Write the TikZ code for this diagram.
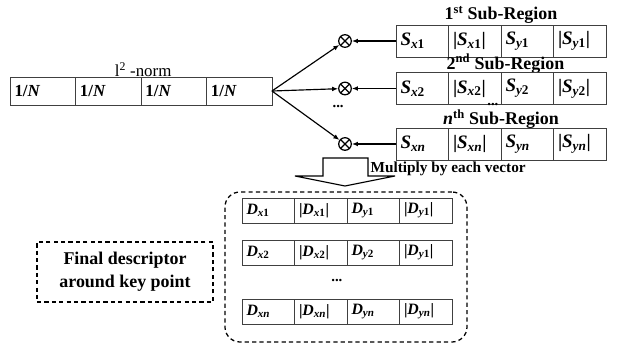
\documentclass[tikz,border=0pt]{standalone}
\usepackage{fontspec}
\setmainfont{Liberation Serif}
\usetikzlibrary{arrows.meta,positioning}
\newcommand{\vc}[3]{\textit{#1}\textsubscript{\textit{#2}#3}}
\newcommand{\absvc}[3]{|\vc{#1}{#2}{#3}|}
\tikzset{
  cell/.style={draw=black!75, line width=0.6pt, inner xsep=0.15cm,
               inner ysep=0pt, outer sep=0pt, align=left},
  normcell/.style={cell, text width=1.883cm, minimum height=0.933cm,
                   font=\fontsize{16}{18}\selectfont\bfseries},
  scell/.style={cell, text width=1.45cm, minimum height=1.067cm,
                font=\fontsize{18}{20}\selectfont\bfseries},
  dcell/.style={cell, text width=1.45cm, minimum height=0.833cm,
                font=\fontsize{15}{17}\selectfont\bfseries},
  title/.style={font=\fontsize{17}{19}\selectfont\bfseries, inner sep=0pt},
  dots/.style={font=\fontsize{14}{16}\selectfont\bfseries, inner sep=0pt},
  mult/.style={circle, draw=black, line width=1.2pt, minimum size=0.42cm,
               inner sep=0pt,
               path picture={\draw[line width=1.2pt]
                 (path picture bounding box.north west) -- (path picture bounding box.south east)
                 (path picture bounding box.north east) -- (path picture bounding box.south west);}},
  flow/.style={-{Latex[length=2mm,width=1.6mm]}, line width=1.1pt},
  dashbox/.style={draw=black, line width=1.2pt, dash pattern=on 4pt off 3pt},
  blockarrow/.style={draw=black, line width=1.1pt, fill=white},
}

\begin{document}
\begin{tikzpicture}[x=1cm,y=1cm]
  \path[use as bounding box] (0,0) rectangle (20.6,11.567);

  % l2-norm row
  \node[normcell] (n1) at (1.425,8.533) {1/\textit{N}};
  \node[normcell, right=0pt of n1] (n2) {1/\textit{N}};
  \node[normcell, right=0pt of n2] (n3) {1/\textit{N}};
  \node[normcell, right=0pt of n3] (n4) {1/\textit{N}};
  \node[font=\fontsize{16}{18}\selectfont, inner sep=0pt] (normlab) at (4.77,9.25)
    {l\textsuperscript{2} -norm};

  % sub-region vectors
  \node[title] (t1) at (16.7,11.07) {1\textsuperscript{st} Sub-Region};
  \node[scell] (s11) at (14.075,10.2) {\vc{S}{x}{1}};
  \node[scell, right=0pt of s11] (s12) {\absvc{S}{x}{1}};
  \node[scell, right=0pt of s12] (s13) {\vc{S}{y}{1}};
  \node[scell, right=0pt of s13] (s14) {\absvc{S}{y}{1}};

  \node[title] (t2) at (16.85,9.45) {2\textsuperscript{nd} Sub-Region};
  \node[scell] (s21) at (14.075,8.617) {\vc{S}{x}{2}};
  \node[scell, right=0pt of s21] (s22) {\absvc{S}{x}{2}};
  \node[scell, right=0pt of s22] (s23) {\vc{S}{y}{2}};
  \node[scell, right=0pt of s23] (s24) {\absvc{S}{y}{2}};
  \node[dots] (sdots) at (16.43,8.07) {...};

  \node[title] (t3) at (16.7,7.6) {\textit{n}\textsuperscript{th} Sub-Region};
  \node[scell] (s31) at (14.075,6.767) {\vc{S}{xn}{}};
  \node[scell, right=0pt of s31] (s32) {\absvc{S}{xn}{}};
  \node[scell, right=0pt of s32] (s33) {\vc{S}{yn}{}};
  \node[scell, right=0pt of s33] (s34) {\absvc{S}{yn}{}};

  % multipliers
  \node[mult] (m1) at (11.5,10.2) {};
  \node[mult] (m2) at (11.5,8.617) {};
  \node[mult] (m3) at (11.5,6.767) {};
  \node[dots] (mdots) at (11.27,8.03) {...};
  \draw[flow] (n4.east) -- (m1);
  \draw[flow] (n4.east) -- (m2);
  \draw[flow] (n4.east) -- (m3);
  \draw[flow] (s11.west) -- (m1);
  \draw[flow] (s21.west) -- (m2);
  \draw[flow] (s31.west) -- (m3);

  % block arrow
  \draw[blockarrow] (10.767,6.3) -- (10.767,5.7) -- (9.833,5.7) -- (11.5,5.367)
    -- (13.167,5.7) -- (12.267,5.7) -- (12.267,6.3) -- cycle;
  \node[title, anchor=west, font=\fontsize{14.5}{16}\selectfont\bfseries] (multlab)
    at (12.35,5.93) {Multiply by each vector};

  % final descriptor
  \node[dashbox, rounded corners=0.5cm, minimum width=8.067cm, minimum height=5.0cm]
    (group) at (11.533,2.667) {};
  \node[dcell] (d11) at (8.942,4.55) {\vc{D}{x}{1}};
  \node[dcell, right=0pt of d11] (d12) {\absvc{D}{x}{1}};
  \node[dcell, right=0pt of d12] (d13) {\vc{D}{y}{1}};
  \node[dcell, right=0pt of d13] (d14) {\absvc{D}{y}{1}};

  \node[dcell] (d21) at (8.942,3.15) {\vc{D}{x}{2}};
  \node[dcell, right=0pt of d21] (d22) {\absvc{D}{x}{2}};
  \node[dcell, right=0pt of d22] (d23) {\vc{D}{y}{2}};
  \node[dcell, right=0pt of d23] (d24) {\absvc{D}{y}{1}};
  \node[dots] (ddots) at (11.23,2.23) {...};

  \node[dcell] (d31) at (8.942,1.183) {\vc{D}{xn}{}};
  \node[dcell, right=0pt of d31] (d32) {\absvc{D}{xn}{}};
  \node[dcell, right=0pt of d32] (d33) {\vc{D}{yn}{}};
  \node[dcell, right=0pt of d33] (d34) {\absvc{D}{yn}{}};

  \node[dashbox, minimum width=5.867cm, minimum height=2.0cm, align=center,
        font=\fontsize{17}{22}\selectfont\bfseries] (final) at (4.167,2.5)
    {Final descriptor\\around key point};
\end{tikzpicture}
\end{document}
